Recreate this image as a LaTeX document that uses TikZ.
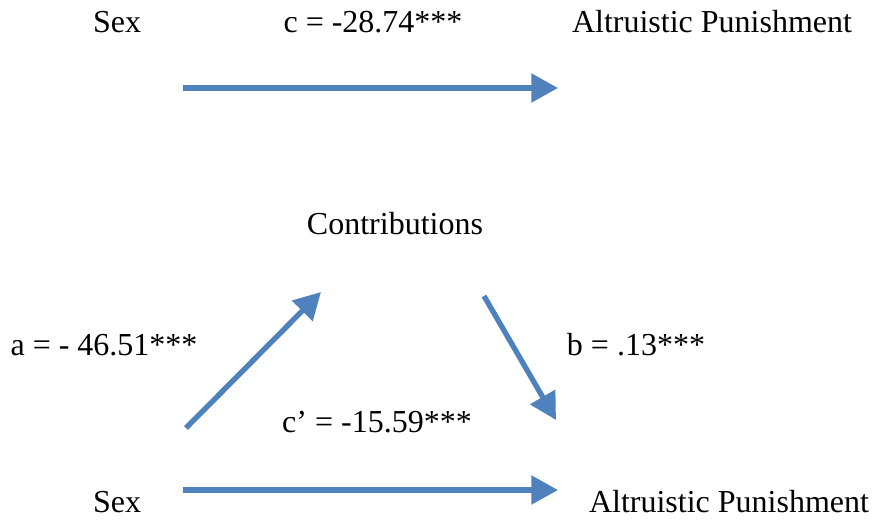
\documentclass[tikz,border=0pt]{standalone}
\usepackage{fontspec}
\setmainfont{Liberation Serif}
\usetikzlibrary{arrows.meta}
\definecolor{pathblue}{HTML}{4F81BD}
\begin{document}
\begin{tikzpicture}[
    x=0.75pt,
    y=-0.75pt,
    font=\fontsize{24}{28}\selectfont,
    lbl/.style={
        anchor=base,
        inner sep=0pt
    },
    path/.style={
        -{Triangle[length=20pt, width=21pt]},
        line width=4pt,
        draw=pathblue
    }
]
    \useasboundingbox (0,0) rectangle (875,521);

    % Celkovy efekt
    \node[lbl] (sextop) at (117,32) {Sex};
    \node[lbl] (ctotal) at (373,32) {c = -28.74***};
    \node[lbl] (puntop) at (712,32) {Altruistic Punishment};

    \coordinate (topstart) at (183,88);
    \coordinate (topend) at (558,88);
    \draw[path] (topstart) -- (topend);

    % Mediace
    \node[lbl] (contrib) at (395,234) {Contributions};
    \node[lbl] (apath) at (104,355) {a = - 46.51***};
    \node[lbl] (bpath) at (636,355) {b = .13***};
    \node[lbl] (cdirect) at (377,432) {c’ = -15.59***};
    \node[lbl] (sexbot) at (117,512) {Sex};
    \node[lbl] (punbot) at (729,512) {Altruistic Punishment};

    \coordinate (astart) at (186,428);
    \coordinate (aend) at (321,292);
    \coordinate (bstart) at (484,296);
    \coordinate (bend) at (556,420);
    \coordinate (botstart) at (183,490);
    \coordinate (botend) at (558,490);

    \draw[path] (astart) -- (aend);
    \draw[path] (bstart) -- (bend);
    \draw[path] (botstart) -- (botend);
\end{tikzpicture}
\end{document}
